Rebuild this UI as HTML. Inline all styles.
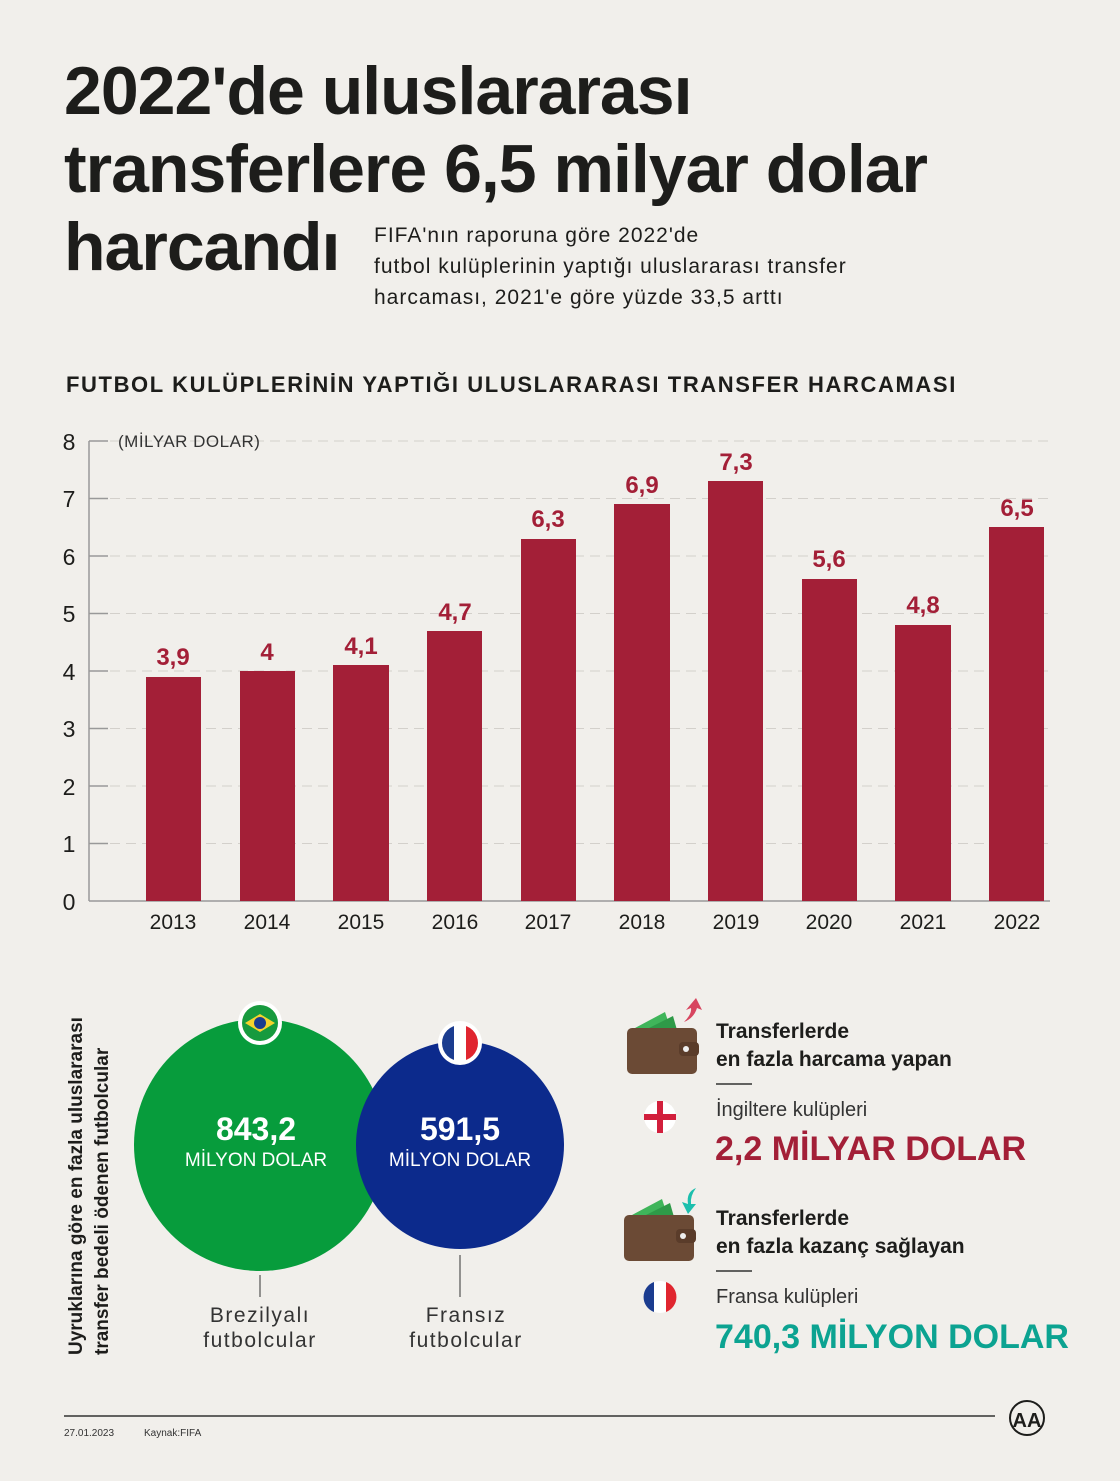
<!DOCTYPE html>
<html><head><meta charset="utf-8"><style>
html,body{margin:0;padding:0}
body{width:1120px;height:1481px;background:#f1efeb;font-family:"Liberation Sans","DejaVu Sans",sans-serif;position:relative;overflow:hidden;color:#1d1d1b}
.a{position:absolute;white-space:nowrap}
</style></head><body>
<div class="a" style="left:64px;top:52px;font-size:68px;font-weight:900;line-height:78px;letter-spacing:-1px">2022'de uluslararası<br>transferlere 6,5 milyar dolar<br>harcandı</div>
<div class="a" style="left:374px;top:220px;font-size:21px;line-height:31px;letter-spacing:1px">FIFA'nın raporuna göre 2022'de<br>futbol kulüplerinin yaptığı uluslararası transfer<br>harcaması, 2021'e göre yüzde 33,5 arttı</div>
<div class="a" style="left:66px;top:372px;font-size:22px;font-weight:bold;letter-spacing:1.6px">FUTBOL KULÜPLERİNİN YAPTIĞI ULUSLARARASI TRANSFER HARCAMASI</div>
<svg class="a" style="left:0;top:0" width="1120" height="960">
<g stroke="#d3d0cb" stroke-dasharray="10,6" stroke-width="1">
<line x1="110" y1="441" x2="1050" y2="441"/><line x1="110" y1="498.5" x2="1050" y2="498.5"/><line x1="110" y1="556" x2="1050" y2="556"/><line x1="110" y1="613.5" x2="1050" y2="613.5"/><line x1="110" y1="671" x2="1050" y2="671"/><line x1="110" y1="728.5" x2="1050" y2="728.5"/><line x1="110" y1="786" x2="1050" y2="786"/><line x1="110" y1="843.5" x2="1050" y2="843.5"/></g>
<line x1="89" y1="441" x2="89" y2="901" stroke="#999" stroke-width="1.5"/>
<line x1="89" y1="901" x2="1050" y2="901" stroke="#999" stroke-width="1.5"/>
<g stroke="#999" stroke-width="1.5"><line x1="89" y1="441" x2="108" y2="441"/><line x1="89" y1="498.5" x2="108" y2="498.5"/><line x1="89" y1="556" x2="108" y2="556"/><line x1="89" y1="613.5" x2="108" y2="613.5"/><line x1="89" y1="671" x2="108" y2="671"/><line x1="89" y1="728.5" x2="108" y2="728.5"/><line x1="89" y1="786" x2="108" y2="786"/><line x1="89" y1="843.5" x2="108" y2="843.5"/></g>
<g font-size="23" fill="#1d1d1b" text-anchor="middle" font-family="Liberation Sans,sans-serif">
<text x="69" y="450">8</text><text x="69" y="507">7</text><text x="69" y="565">6</text><text x="69" y="622">5</text><text x="69" y="680">4</text><text x="69" y="737">3</text><text x="69" y="795">2</text><text x="69" y="852">1</text><text x="69" y="910">0</text></g>
<text x="118" y="447" font-size="17" fill="#333" letter-spacing="0.5">(MİLYAR DOLAR)</text>
<g fill="#a31f37">
<rect x="146" y="677" width="55" height="224"/><rect x="240" y="671" width="55" height="230"/><rect x="333" y="665" width="56" height="236"/><rect x="427" y="631" width="55" height="270"/><rect x="521" y="539" width="55" height="362"/><rect x="614" y="504" width="56" height="397"/><rect x="708" y="481" width="55" height="420"/><rect x="802" y="579" width="55" height="322"/><rect x="895" y="625" width="56" height="276"/><rect x="989" y="527" width="55" height="374"/></g>
<g fill="#a31f37" font-size="24" font-weight="bold" text-anchor="middle">
<text x="173" y="665">3,9</text><text x="267" y="660">4</text><text x="361" y="654">4,1</text><text x="455" y="620">4,7</text><text x="548" y="527">6,3</text><text x="642" y="493">6,9</text><text x="736" y="470">7,3</text><text x="829" y="567">5,6</text><text x="923" y="613">4,8</text><text x="1017" y="516">6,5</text></g>
<g font-size="21" fill="#1d1d1b" text-anchor="middle">
<text x="173" y="929">2013</text><text x="267" y="929">2014</text><text x="361" y="929">2015</text><text x="455" y="929">2016</text><text x="548" y="929">2017</text><text x="642" y="929">2018</text><text x="736" y="929">2019</text><text x="829" y="929">2020</text><text x="923" y="929">2021</text><text x="1017" y="929">2022</text></g>
</svg>
<svg class="a" style="left:0;top:960px" width="1120" height="521">
<text transform="translate(82,395) rotate(-90)" font-size="19" font-weight="bold" fill="#1d1d1b">Uyruklarına göre en fazla uluslararası</text>
<text transform="translate(108,395) rotate(-90)" font-size="19" font-weight="bold" fill="#1d1d1b">transfer bedeli ödenen futbolcular</text>
<circle cx="260" cy="185" r="126" fill="#079c3c"/>
<circle cx="460" cy="185" r="104" fill="#0c2a8c"/>
<circle cx="260" cy="63" r="22" fill="#fff"/><circle cx="260" cy="63" r="18" fill="#179a3e"/>
<polygon points="245,63 260,54 275,63 260,72" fill="#f6d32d"/><circle cx="260" cy="63" r="6" fill="#1b3c8f"/>
<circle cx="460" cy="83" r="22" fill="#fff"/>
<path d="M460 65 A18 18 0 0 0 460 101 Z" fill="#1b3c8f"/><path d="M460 65 A18 18 0 0 1 460 101 Z" fill="#e0252f"/><rect x="454" y="65" width="12" height="36" fill="#fff"/>
<g fill="#fff" text-anchor="middle"><text x="256" y="180" font-size="32" font-weight="bold">843,2</text><text x="256" y="206" font-size="19">MİLYON DOLAR</text>
<text x="460" y="180" font-size="32" font-weight="bold">591,5</text><text x="460" y="206" font-size="19">MİLYON DOLAR</text></g>
<line x1="260" y1="315" x2="260" y2="337" stroke="#333"/><line x1="460" y1="295" x2="460" y2="337" stroke="#333"/>
<g font-size="21" fill="#333" text-anchor="middle" letter-spacing="1.5"><text x="260" y="362">Brezilyalı</text><text x="260" y="387">futbolcular</text><text x="466" y="362">Fransız</text><text x="466" y="387">futbolcular</text></g>
<g transform="translate(627,48)"><path d="M8 20 L38 4 L44 22 Z" fill="#3fb55a"/><path d="M18 22 L46 8 L50 22Z" fill="#2e9a48"/><rect x="0" y="20" width="70" height="46" rx="5" fill="#6b4a35"/><rect x="52" y="34" width="20" height="14" rx="4" fill="#5a3c2a"/><circle cx="59" cy="41" r="3" fill="#eee"/></g>
<path d="M686 50 L696 38 L702 50 L697 48 Q694 58 684 62 Q692 54 691 48Z" fill="#d7455f"/>
<g transform="translate(624,235)"><path d="M8 20 L38 4 L44 22 Z" fill="#3fb55a"/><path d="M18 22 L46 8 L50 22Z" fill="#2e9a48"/><rect x="0" y="20" width="70" height="46" rx="5" fill="#6b4a35"/><rect x="52" y="34" width="20" height="14" rx="4" fill="#5a3c2a"/><circle cx="59" cy="41" r="3" fill="#eee"/></g>
<path d="M696 228 Q686 232 688 244 L682 242 L688 254 L696 244 L691 244 Q690 236 696 228Z" fill="#1cbfad"/>
<circle cx="660" cy="157" r="16" fill="#fff"/><rect x="644" y="154" width="32" height="6" fill="#d21f3c"/><rect x="657" y="141" width="6" height="32" fill="#d21f3c"/>
<circle cx="660" cy="337" r="16" fill="#fff"/><path d="M654 322 A16 16 0 0 0 654 352 Z" fill="#1b3c8f"/><path d="M666 322 A16 16 0 0 1 666 352 Z" fill="#e0252f"/>
<g font-size="21" font-weight="bold" fill="#1d1d1b"><text x="716" y="78">Transferlerde</text><text x="716" y="106">en fazla harcama yapan</text><text x="716" y="265">Transferlerde</text><text x="716" y="293">en fazla kazanç sağlayan</text></g>
<line x1="716" y1="124" x2="752" y2="124" stroke="#333" stroke-width="1.5"/><line x1="716" y1="311" x2="752" y2="311" stroke="#333" stroke-width="1.5"/>
<g font-size="20" fill="#333"><text x="716" y="156">İngiltere kulüpleri</text><text x="716" y="343">Fransa kulüpleri</text></g>
<text x="715" y="200" font-size="34" font-weight="bold" fill="#a31f37">2,2 MİLYAR DOLAR</text>
<text x="715" y="388" font-size="34" font-weight="bold" fill="#0ca391">740,3 MİLYON DOLAR</text>
<line x1="64" y1="456" x2="995" y2="456" stroke="#333" stroke-width="1.5"/>
<text x="64" y="476" font-size="10" fill="#333">27.01.2023</text><text x="144" y="476" font-size="10" fill="#333">Kaynak:FIFA</text>
<circle cx="1027" cy="458" r="17" fill="none" stroke="#1d1d1b" stroke-width="2"/>
<text x="1027" y="467" font-size="20" font-weight="bold" text-anchor="middle" fill="#1d1d1b">AA</text>
</svg>
</body></html>
